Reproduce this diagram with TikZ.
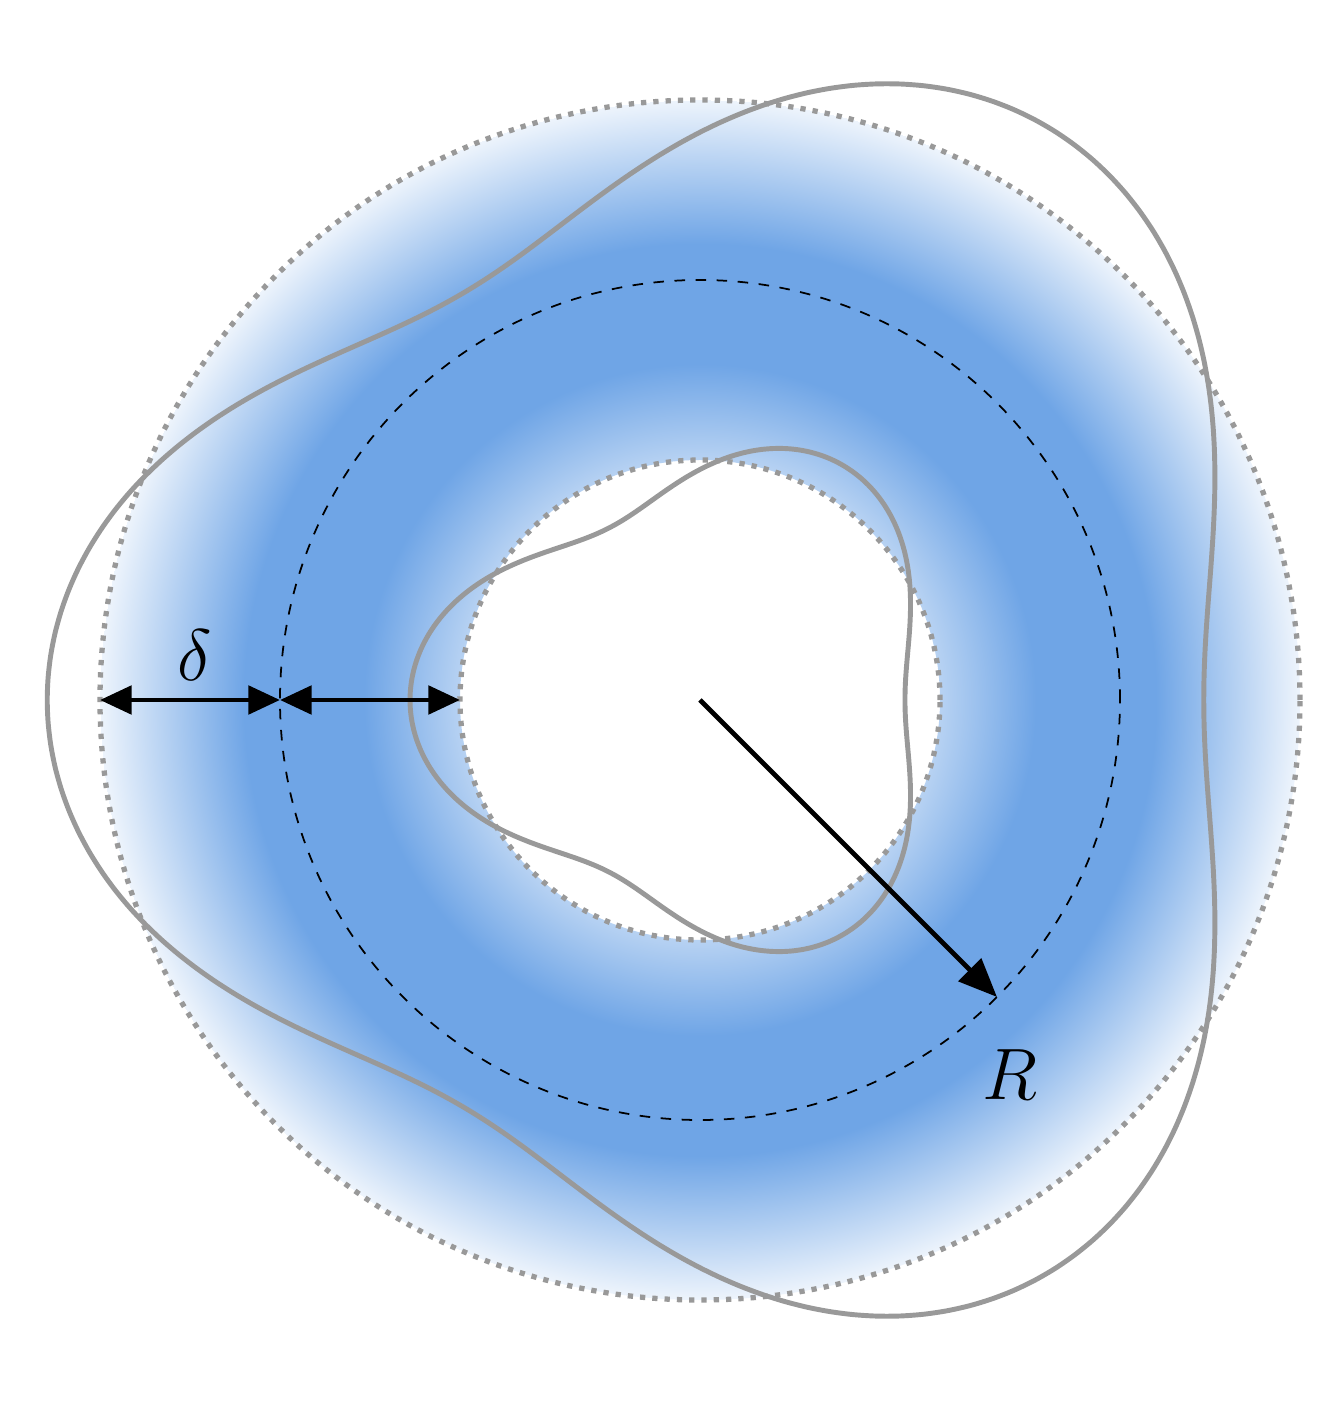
\documentclass[tikz,border=0pt]{standalone}
\usetikzlibrary{arrows.meta}
\definecolor{ringblue}{RGB}{111,165,230}
\pgfdeclareradialshading{ring}{\pgfpoint{0bp}{0bp}}{%
  color(0bp)=(white); color(10bp)=(ringblue!50!white);
  color(14bp)=(ringblue);
  color(19bp)=(ringblue); color(25bp)=(ringblue!12!white)}
\begin{document}
\begin{tikzpicture}[
        wave/.style = {draw=gray!80, line width=1.4pt, smooth, samples=181, domain=0:360},
        rim/.style = {draw=gray!80, line width=1.5pt, dotted},
        dim/.style = {line width=1.4pt, {Triangle[length=9pt,width=8pt]}-{Triangle[length=9pt,width=8pt]}}]

    \useasboundingbox (-7.0,-7.03) rectangle (6.22,7.00);

    % Shaded ring
    \shade[shading=ring, even odd rule] (0,0) circle(6) (0,0) circle(2.4);
    \draw[rim] (0,0) circle(6);
    \draw[rim] (0,0) circle(2.4);

    % Middle circle
    \draw[dashed, line width=0.5pt] (0,0) circle(4.2);

    % Wavy boundaries
    \draw[wave] plot ({\x}:{5.73+0.167*cos(\x)+0.0526*cos(2*\x)-0.912*cos(3*\x)}) -- cycle;
    \draw[wave] plot ({\x}:{2.39-0.018*cos(\x)+0.0848*cos(2*\x)-0.407*cos(3*\x)}) -- cycle;

    % Radius
    \coordinate (O) at (0,0);
    \coordinate (Rend) at (-45:4.2);
    \draw[line width=1.4pt, -{Triangle[length=11pt,width=9pt]}] (O) -- (Rend);
    \node[font=\fontsize{22}{26}\selectfont] (R) at (3.1,-3.75) {$R$};

    % Widths
    \coordinate (out) at (-6,0);
    \coordinate (mid) at (-4.2,0);
    \coordinate (in) at (-2.4,0);
    \draw[dim] (out) -- (mid);
    \draw[dim] (mid) -- (in);
    \node[font=\fontsize{22}{26}\selectfont] (delta) at (-5.05,0.45) {$\delta$};

\end{tikzpicture}
\end{document}
